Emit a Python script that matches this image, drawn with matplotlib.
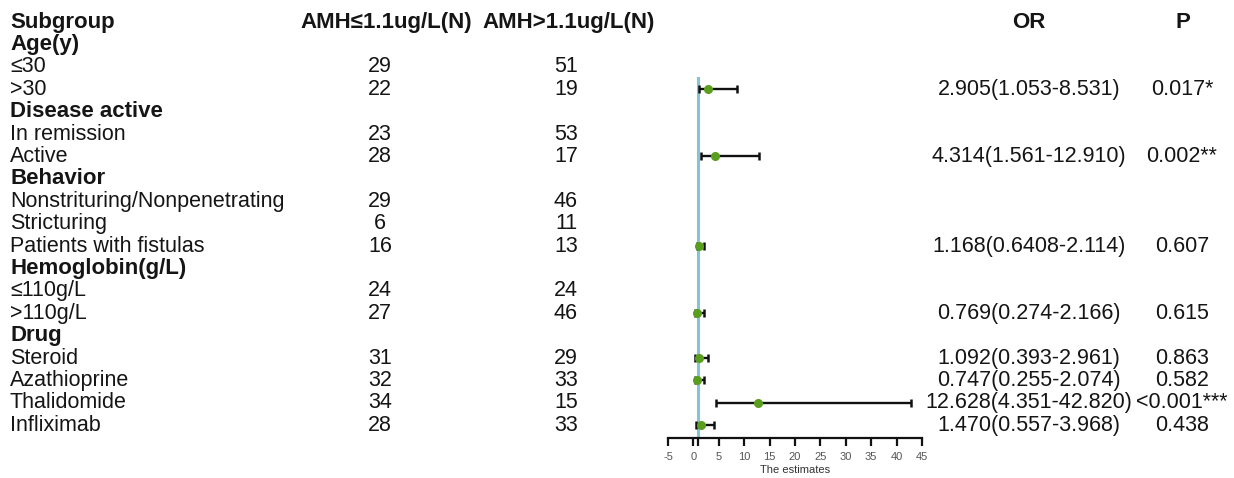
"""
Forest plot: AMH subgroup odds ratios with count and OR/P columns.
"""
import numpy as np
import matplotlib
matplotlib.use('Agg')
import matplotlib.pyplot as plt

plt.rcParams['font.family'] = ['Liberation Sans', 'DejaVu Sans']
plt.rcParams['axes.unicode_minus'] = False

# ── data ──────────────────────────────────────────────────────────────────────

labels = ['Age(y)', '≤30', '>30',
          'Disease active', 'In remission', 'Active',
          'Behavior', 'Nonstrituring/Nonpenetrating', 'Stricturing', 'Patients with fistulas',
          'Hemoglobin(g/L)', '≤110g/L', '>110g/L',
          'Drug', 'Steroid', 'Azathioprine', 'Thalidomide', 'Infliximab']
is_group = [True, False, False,
            True, False, False,
            True, False, False, False,
            True, False, False,
            True, False, False, False, False]
n_low  = ['', '29', '22', '', '23', '28', '', '29', '6', '16', '', '24', '27', '', '31', '32', '34', '28']
n_high = ['', '51', '19', '', '53', '17', '', '46', '11', '13', '', '24', '46', '', '29', '33', '15', '33']

odds   = [np.nan, np.nan, 2.905, np.nan, np.nan, 4.314, np.nan, np.nan, np.nan, 1.168,
          np.nan, np.nan, 0.769, np.nan, 1.092, 0.747, 12.628, 1.470]
ci_lo  = [np.nan, np.nan, 1.053, np.nan, np.nan, 1.561, np.nan, np.nan, np.nan, 0.6408,
          np.nan, np.nan, 0.274, np.nan, 0.393, 0.255, 4.351, 0.557]
ci_hi  = [np.nan, np.nan, 8.531, np.nan, np.nan, 12.910, np.nan, np.nan, np.nan, 2.114,
          np.nan, np.nan, 2.166, np.nan, 2.961, 2.074, 42.820, 3.968]
or_txt = ['', '', '2.905(1.053-8.531)', '', '', '4.314(1.561-12.910)', '', '', '',
          '1.168(0.6408-2.114)', '', '', '0.769(0.274-2.166)', '',
          '1.092(0.393-2.961)', '0.747(0.255-2.074)', '12.628(4.351-42.820)', '1.470(0.557-3.968)']
p_txt  = ['', '', '0.017*', '', '', '0.002**', '', '', '', '0.607', '', '', '0.615', '',
          '0.863', '0.582', '<0.001***', '0.438']

xticks = [-5, 0, 5, 10, 15, 20, 25, 30, 35, 40, 45]
ref_line = 1

# ── layout (pixels of a 1234x478 canvas) ──────────────────────────────────────

W, H = 1234, 478
ROW0, ROW_H = 22, 22.4          # pixel centre of header row, row height
rows = np.arange(1, len(labels) + 1)


def row_of(px):
    return (px - ROW0) / ROW_H


fig = plt.figure(figsize=(W / 100, H / 100), dpi=100)

# text layer covering the whole canvas, y measured in rows
tx = fig.add_axes([0, 0, 1, 1])
tx.set_xlim(0, W)
tx.set_ylim(row_of(H), row_of(0))
tx.axis('off')

BODY = 15.5
HEAD = 16
INK = '#151515'

tx.text(10, 0, 'Subgroup', fontsize=HEAD, fontweight='bold', va='center', ha='left', color=INK)
tx.text(386, 0, 'AMH≤1.1ug/L(N)', fontsize=HEAD, fontweight='bold', va='center', ha='center', color=INK)
tx.text(569, 0, 'AMH>1.1ug/L(N)', fontsize=HEAD, fontweight='bold', va='center', ha='center', color=INK)
tx.text(1029, 0, 'OR', fontsize=HEAD, fontweight='bold', va='center', ha='center', color=INK)
tx.text(1183, 0, 'P', fontsize=HEAD, fontweight='bold', va='center', ha='center', color=INK)

for r, lab, grp, a, b, o, p in zip(rows, labels, is_group, n_low, n_high, or_txt, p_txt):
    tx.text(10, r, lab, fontsize=HEAD if grp else BODY,
            fontweight='bold' if grp else 'normal', va='center', ha='left', color=INK)
    tx.text(380, r, a, fontsize=BODY, va='center', ha='center', color=INK)
    tx.text(566, r, b, fontsize=BODY, va='center', ha='center', color=INK)
    tx.text(1029, r, o, fontsize=BODY, va='center', ha='center', color=INK)
    tx.text(1182, r, p, fontsize=BODY, va='center', ha='center', color=INK)

# forest panel
left, right, top, bottom = 668, 922, 77, 438
ax = fig.add_axes([left / W, 1 - bottom / H, (right - left) / W, (bottom - top) / H])
ax.set_xlim(xticks[0], xticks[-1])
ax.set_ylim(row_of(bottom), row_of(top))
ax.patch.set_alpha(0)

ax.axvline(ref_line, color='#80c6d6', linewidth=2.2, zorder=1)

odds_a = np.array(odds)
lo_a = np.array(ci_lo)
hi_a = np.array(ci_hi)
m = ~np.isnan(odds_a)
ax.errorbar(odds_a[m], rows[m], xerr=[odds_a[m] - lo_a[m], hi_a[m] - odds_a[m]],
            fmt='none', ecolor='#111111', elinewidth=1.7, capsize=3.2, capthick=1.8, zorder=2)
ax.plot(odds_a[m], rows[m], 'o', color='#5a9e1e', markersize=5.5, zorder=3)

for s in ['top', 'right', 'left']:
    ax.spines[s].set_visible(False)
ax.spines['bottom'].set_linewidth(1.6)
ax.spines['bottom'].set_color('#111111')
ax.set_yticks([])
ax.set_xticks(xticks)
ax.set_xticks([ref_line], minor=True)
ax.tick_params(axis='x', which='both', direction='out', length=6, width=1.6,
               color='#111111', labelsize=8, labelcolor='#555555', pad=4)
ax.set_xlabel('The estimates', fontsize=8, color='#333333', labelpad=2)

plt.savefig('out.png', dpi=100)
plt.close()
